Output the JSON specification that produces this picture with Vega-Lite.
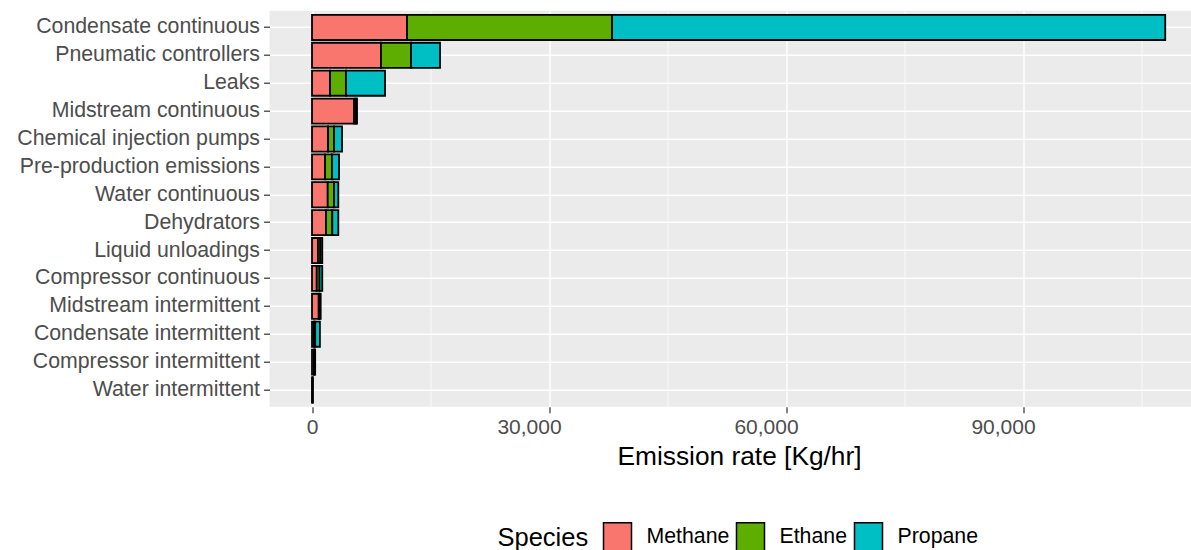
{
  "$schema": "https://vega.github.io/schema/vega-lite/v6.json",
  "autosize": {"type": "none"},
  "padding": {"left": 269.5, "top": 10.7, "right": 0, "bottom": 143.3},
  "width": 921.5,
  "height": 396,
  "background": "white",
  "config": {
    "font": "Liberation Sans",
    "view": {"fill": "#EBEBEB", "stroke": null}
  },
  "datasets": {
    "speciesOrder": [
      {"species": "Methane", "stackRank": 1},
      {"species": "Ethane", "stackRank": 2},
      {"species": "Propane", "stackRank": 3}
    ]
  },
  "data": {
    "values": [
      {"source": "Condensate continuous", "species": "Methane", "rate": 12030},
      {"source": "Condensate continuous", "species": "Ethane", "rate": 25950},
      {"source": "Condensate continuous", "species": "Propane", "rate": 70020},
      {"source": "Pneumatic controllers", "species": "Methane", "rate": 8735},
      {"source": "Pneumatic controllers", "species": "Ethane", "rate": 3800},
      {"source": "Pneumatic controllers", "species": "Propane", "rate": 3670},
      {"source": "Leaks", "species": "Methane", "rate": 2280},
      {"source": "Leaks", "species": "Ethane", "rate": 2020},
      {"source": "Leaks", "species": "Propane", "rate": 4940},
      {"source": "Midstream continuous", "species": "Methane", "rate": 5320},
      {"source": "Midstream continuous", "species": "Ethane", "rate": 250},
      {"source": "Midstream continuous", "species": "Propane", "rate": 130},
      {"source": "Chemical injection pumps", "species": "Methane", "rate": 2030},
      {"source": "Chemical injection pumps", "species": "Ethane", "rate": 760},
      {"source": "Chemical injection pumps", "species": "Propane", "rate": 1010},
      {"source": "Pre-production emissions", "species": "Methane", "rate": 1650},
      {"source": "Pre-production emissions", "species": "Ethane", "rate": 880},
      {"source": "Pre-production emissions", "species": "Propane", "rate": 890},
      {"source": "Water continuous", "species": "Methane", "rate": 1990},
      {"source": "Water continuous", "species": "Ethane", "rate": 800},
      {"source": "Water continuous", "species": "Propane", "rate": 540},
      {"source": "Dehydrators", "species": "Methane", "rate": 1770},
      {"source": "Dehydrators", "species": "Ethane", "rate": 800},
      {"source": "Dehydrators", "species": "Propane", "rate": 760},
      {"source": "Liquid unloadings", "species": "Methane", "rate": 750},
      {"source": "Liquid unloadings", "species": "Ethane", "rate": 300},
      {"source": "Liquid unloadings", "species": "Propane", "rate": 250},
      {"source": "Compressor continuous", "species": "Methane", "rate": 600},
      {"source": "Compressor continuous", "species": "Ethane", "rate": 350},
      {"source": "Compressor continuous", "species": "Propane", "rate": 350},
      {"source": "Midstream intermittent", "species": "Methane", "rate": 850},
      {"source": "Midstream intermittent", "species": "Ethane", "rate": 150},
      {"source": "Midstream intermittent", "species": "Propane", "rate": 100},
      {"source": "Condensate intermittent", "species": "Methane", "rate": 250},
      {"source": "Condensate intermittent", "species": "Ethane", "rate": 150},
      {"source": "Condensate intermittent", "species": "Propane", "rate": 600},
      {"source": "Compressor intermittent", "species": "Methane", "rate": 250},
      {"source": "Compressor intermittent", "species": "Ethane", "rate": 80},
      {"source": "Compressor intermittent", "species": "Propane", "rate": 70},
      {"source": "Water intermittent", "species": "Methane", "rate": 60},
      {"source": "Water intermittent", "species": "Ethane", "rate": 20},
      {"source": "Water intermittent", "species": "Propane", "rate": 20}
    ]
  },
  "transform": [
    {"lookup": "species", "from": {"data": {"name": "speciesOrder"}, "key": "species", "fields": ["stackRank"]}}
  ],
  "mark": {"type": "bar", "stroke": "black", "strokeWidth": 1.8},
  "encoding": {
    "y": {
      "field": "source",
      "type": "nominal",
      "sort": ["Condensate continuous", "Pneumatic controllers", "Leaks", "Midstream continuous", "Chemical injection pumps", "Pre-production emissions", "Water continuous", "Dehydrators", "Liquid unloadings", "Compressor continuous", "Midstream intermittent", "Condensate intermittent", "Compressor intermittent", "Water intermittent"],
      "scale": {"paddingInner": 0.1, "paddingOuter": 0.15},
      "axis": {
        "title": null,
        "domain": false,
        "grid": true,
        "gridColor": "white",
        "gridWidth": 1.4,
        "bandPosition": 0.5,
        "tickBand": "center",
        "ticks": true,
        "tickSize": 6,
        "tickColor": "#333333",
        "tickWidth": 1.2,
        "labelFontSize": 21.3,
        "labelColor": "#4D4D4D",
        "labelPadding": 4,
        "labelLimit": 300
      }
    },
    "x": {
      "field": "rate",
      "type": "quantitative",
      "stack": "zero",
      "scale": {"domain": [-5380, 111264], "nice": false, "zero": false},
      "axis": {
        "title": "Emission rate [Kg/hr]",
        "titleFontSize": 26.3,
        "titleFontWeight": "normal",
        "titleColor": "black",
        "titlePadding": 6,
        "titleX": 469.5,
        "titleAlign": "center",
        "values": [0, 15000, 30000, 45000, 60000, 75000, 90000, 105000],
        "labelExpr": "datum.value % 30000 === 0 ? format(datum.value, ',') : ''",
        "labelOffset": {"condition": {"test": "datum.value === 0", "value": 0}, "value": -20},
        "domain": false,
        "grid": true,
        "gridColor": "white",
        "gridWidth": {"condition": {"test": "datum.value % 30000 === 0", "value": 1.4}, "value": 0.7},
        "tickSize": 6,
        "tickColor": "#333333",
        "tickWidth": 1.2,
        "tickOpacity": {"condition": {"test": "datum.value % 30000 === 0", "value": 1}, "value": 0},
        "labelFontSize": 21,
        "labelColor": "#4D4D4D",
        "labelPadding": 4
      }
    },
    "order": {"field": "stackRank", "type": "quantitative", "sort": "ascending"},
    "color": {
      "field": "species",
      "type": "nominal",
      "sort": ["Methane", "Ethane", "Propane"],
      "scale": {"domain": ["Methane", "Ethane", "Propane"], "range": ["#F8766D", "#5DAE00", "#00BFC4"]},
      "legend": {
        "orient": "none",
        "direction": "horizontal",
        "legendX": 228,
        "legendY": 511,
        "title": "Species",
        "titleOrient": "left",
        "titleFontSize": 25.5,
        "titleFontWeight": "normal",
        "titleColor": "black",
        "titlePadding": 14,
        "titleBaseline": "middle",
        "symbolType": "square",
        "symbolSize": 784,
        "symbolStrokeColor": "black",
        "symbolStrokeWidth": 1.5,
        "symbolOpacity": 1,
        "labelFontSize": 21.3,
        "labelColor": "black",
        "labelOffset": 14,
        "columnPadding": 4
      }
    }
  }
}
